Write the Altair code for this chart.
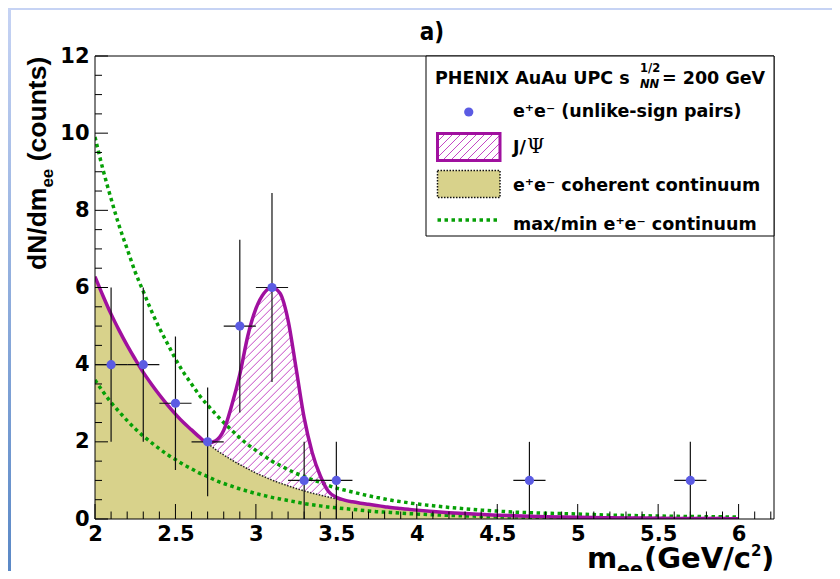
import numpy as np
import pandas as pd
import altair as alt

# ---------------- data ----------------
mass = [2.00, 2.05, 2.10, 2.15, 2.20, 2.25, 2.30, 2.35, 2.40, 2.45, 2.50, 2.55, 2.60, 2.65,
        2.70, 2.75, 2.80, 2.85, 2.90, 2.95, 3.00, 3.05, 3.10, 3.15, 3.20, 3.25, 3.30, 3.35,
        3.40, 3.45, 3.50, 3.55, 3.60, 3.65, 3.70, 3.75, 3.80, 3.85, 3.90, 3.95, 4.00,
        4.1, 4.2, 4.3, 4.4, 4.5, 4.6, 4.7, 4.8, 4.9, 5.0, 5.1, 5.2, 5.3, 5.4, 5.5, 5.6,
        5.7, 5.8, 5.9, 6.0]
continuum = [6.28, 5.78, 5.31, 4.89, 4.50, 4.14, 3.80, 3.50, 3.22, 2.96, 2.72, 2.50, 2.31, 2.12,
             1.96, 1.80, 1.66, 1.53, 1.41, 1.30, 1.19, 1.10, 1.01, 0.93, 0.86, 0.79, 0.73, 0.67,
             0.62, 0.57, 0.52, 0.48, 0.44, 0.41, 0.38, 0.35, 0.32, 0.29, 0.27, 0.25, 0.23,
             0.195, 0.165, 0.14, 0.12, 0.10, 0.085, 0.072, 0.061, 0.052, 0.044, 0.037, 0.032,
             0.027, 0.023, 0.019, 0.016, 0.014, 0.012, 0.010, 0.0085]
total = [6.28, 5.78, 5.31, 4.89, 4.50, 4.14, 3.80, 3.50, 3.22, 2.96, 2.72, 2.50, 2.31, 2.12,
         1.97, 2.03, 2.30, 2.95, 3.75, 4.75, 5.45, 5.85, 6.00, 5.85, 5.15, 3.90, 2.62, 1.72,
         1.12, 0.72, 0.56, 0.49, 0.445, 0.41, 0.38, 0.35, 0.32, 0.29, 0.27, 0.25, 0.23,
         0.195, 0.165, 0.14, 0.12, 0.10, 0.085, 0.072, 0.061, 0.052, 0.044, 0.037, 0.032,
         0.027, 0.023, 0.019, 0.016, 0.014, 0.012, 0.010, 0.0085]
cont_max = [9.9, 9.05, 8.3, 7.6, 7.0, 6.4, 5.9, 5.4, 4.95, 4.55, 4.15, 3.8, 3.5, 3.2,
            2.95, 2.72, 2.5, 2.3, 2.1, 1.93, 1.78, 1.64, 1.5, 1.39, 1.28, 1.18, 1.1, 1.02,
            0.95, 0.87, 0.8, 0.75, 0.7, 0.65, 0.6, 0.56, 0.52, 0.48, 0.45, 0.42, 0.39,
            0.345, 0.3, 0.265, 0.23, 0.205, 0.18, 0.165, 0.15, 0.14, 0.13, 0.115, 0.1,
            0.092, 0.085, 0.078, 0.07, 0.065, 0.06, 0.055, 0.05]
cont_min = [3.6, 3.3, 3.02, 2.78, 2.55, 2.34, 2.15, 1.98, 1.82, 1.67, 1.54, 1.41, 1.3, 1.19,
            1.1, 1.0, 0.92, 0.85, 0.78, 0.72, 0.66, 0.61, 0.56, 0.52, 0.48, 0.44, 0.4, 0.37,
            0.34, 0.31, 0.29, 0.27, 0.25, 0.23, 0.21, 0.19, 0.18, 0.165, 0.15, 0.14, 0.13,
            0.11, 0.095, 0.08, 0.07, 0.06, 0.052, 0.045, 0.04, 0.035, 0.03, 0.027, 0.024,
            0.021, 0.019, 0.017, 0.015, 0.013, 0.012, 0.011, 0.01]

pair_mass = [2.1, 2.3, 2.5, 2.7, 2.9, 3.1, 3.3, 3.5, 4.7, 5.7]
pair_counts = [4, 4, 3, 2, 5, 6, 1, 1, 1, 1]
pair_err = [2.0, 2.0, 1.73, 1.41, 2.24, 2.45, 1.0, 1.0, 1.0, 1.0]
bin_half_width = 0.1

x_major = [2, 2.5, 3, 3.5, 4, 4.5, 5, 5.5, 6]
x_minor = [2.1, 2.2, 2.3, 2.4, 2.6, 2.7, 2.8, 2.9, 3.1, 3.2, 3.3, 3.4, 3.6, 3.7, 3.8, 3.9,
           4.1, 4.2, 4.3, 4.4, 4.6, 4.7, 4.8, 4.9, 5.1, 5.2, 5.3, 5.4, 5.6, 5.7, 5.8, 5.9,
           6.1, 6.2]
y_major = [0, 2, 4, 6, 8, 10, 12]
y_minor = [0.5, 1, 1.5, 2.5, 3, 3.5, 4.5, 5, 5.5, 6.5, 7, 7.5, 8.5, 9, 9.5,
           10.5, 11, 11.5]

assert len(mass) == len(continuum) == len(total) == len(cont_max) == len(cont_min)

# ---------------- layout ----------------
W, H = 679, 463
PAD_L, PAD_T = 87, 48
CW, CH = 824, 563            # whole chart must fit inside the 840x579 window with 8px margins
X0, X1 = 2.0, 6.22
Y0, Y1 = 0.0, 12.0
sx = W / (X1 - X0)
sy = H / (Y1 - Y0)

YEL = "#d8d28b"
MAG = "#a0109f"
HATCH = "#c448c4"
GRN = "#06a006"
BLUE = "#5b5be3"
ARIAL = "Liberation Sans, Arial, Helvetica, sans-serif"
DJV = "DejaVu Sans, sans-serif"

xs = alt.Scale(domain=[X0, X1], nice=False, zero=False)
ys = alt.Scale(domain=[Y0, Y1], nice=False, zero=False)
ax_x = alt.Axis(values=x_major, format="~g", title=None, ticks=False, domain=False, grid=False,
                labelFont=DJV, labelFontWeight="bold", labelFontSize=21, labelColor="black",
                labelPadding=4, labelFlush=False, labelOverlap=False)
ax_y = alt.Axis(values=y_major, format="d", title=None, ticks=False, domain=False, grid=False,
                labelFont=DJV, labelFontWeight="bold", labelFontSize=21, labelColor="black",
                labelPadding=6, labelFlush=False, labelOverlap=False)

def X(f):
    return alt.X(f, type="quantitative", scale=xs, axis=ax_x)

def Y(f):
    return alt.Y(f, type="quantitative", scale=ys, axis=ax_y)

one = alt.Data(values=[{"a": 1}])

def txt(s, x, y, size, font=DJV, weight="bold", align="left", angle=0, style="normal"):
    return alt.Chart(one).mark_text(
        text=s, font=font, fontSize=size, fontWeight=weight, align=align,
        baseline="alphabetic", angle=angle, fontStyle=style, color="black"
    ).encode(x=alt.value(x), y=alt.value(y))

curves = pd.DataFrame({"m": mass, "c": continuum, "t": total, "u": cont_max, "l": cont_min})

pts = pd.DataFrame({"m": pair_mass, "n": pair_counts, "e": pair_err})
pts["lo"] = pts["n"] - pts["e"]
pts["hi"] = pts["n"] + pts["e"]
pts["xl"] = pts["m"] - bin_half_width
pts["xh"] = pts["m"] + bin_half_width

# hatch of J/psi region (between continuum and total), 45 degree lines in screen space
slope = sx / sy
xx = np.linspace(2.55, 3.8, 2501)
ci = np.interp(xx, mass, continuum)
ti = np.interp(xx, mass, total)
rows = []
for x0 in np.arange(2.55 - 6.5 / slope, 3.8, 8.0 / sx):
    yl = slope * (xx - x0)
    inside = (yl > ci + 0.01) & (yl < ti - 0.01)
    d = np.diff(np.concatenate([[0], inside.astype(np.int8), [0]]))
    for a, b in zip(np.flatnonzero(d == 1), np.flatnonzero(d == -1)):
        if b - a >= 2:
            rows.append(dict(x=xx[a], y=yl[a], x2=xx[b - 1], y2=yl[b - 1]))
hatch = pd.DataFrame(rows)

# legend geometry (pixels relative to plot origin)
LX1, LX2 = 342.5, 405.0
jb1, jb2 = 77.5, 104.5
cb1, cb2 = 114.5, 141.5
lrows = []
hh = jb2 - jb1
for c in np.arange(LX1 - hh, LX2, 8.0):
    ps, pe = max(LX1, c), min(LX2, c + hh)
    if pe - ps > 0.5:
        lrows.append(dict(x=X0 + ps / sx, y=Y1 - (jb2 - (ps - c)) / sy,
                          x2=X0 + pe / sx, y2=Y1 - (jb2 - (pe - c)) / sy))
lhatch = pd.DataFrame(lrows)

layers = []
# page decoration (blue frame strips)
grad = {"gradient": "linear", "x1": 0, "y1": 0, "x2": 0, "y2": 1,
        "stops": [{"offset": 0, "color": "#c6d3f4"}, {"offset": 1, "color": "#5a88c6"}]}
layers.append(alt.Chart(one).mark_rect(fill=grad).encode(
    x=alt.value(-PAD_L), x2=alt.value(-PAD_L + 3), y=alt.value(-PAD_T), y2=alt.value(CH - PAD_T)))
layers.append(alt.Chart(one).mark_rect(fill="#c6d3f4").encode(
    x=alt.value(-PAD_L), x2=alt.value(CW - PAD_L), y=alt.value(-PAD_T), y2=alt.value(-PAD_T + 2)))

# coherent continuum fill
layers.append(alt.Chart(curves).mark_area(color=YEL, interpolate="monotone", clip=True).encode(
    x=X("m"), y=Y("c")))
layers.append(alt.Chart(curves).mark_line(color="#222222", strokeWidth=1.5, strokeDash=[1.5, 1.5],
                                          interpolate="monotone", clip=True).encode(x=X("m"), y=Y("c")))
# J/psi hatch
layers.append(alt.Chart(hatch).mark_rule(color=HATCH, strokeWidth=1).encode(
    x=X("x"), y=Y("y"), x2="x2:Q", y2="y2:Q"))
# max/min continuum
for f in ["u", "l"]:
    layers.append(alt.Chart(curves).mark_line(color=GRN, strokeWidth=3.5, strokeDash=[3.5, 3.5],
                                              strokeCap="butt", interpolate="monotone", clip=True
                                              ).encode(x=X("m"), y=Y(f)))
# total (continuum + J/psi)
layers.append(alt.Chart(curves).mark_line(color=MAG, strokeWidth=3.5, interpolate="monotone",
                                          clip=True).encode(x=X("m"), y=Y("t")))
# ticks (inside)
layers.append(alt.Chart(pd.DataFrame({"v": x_major})).mark_rule(color="black", strokeWidth=1).encode(
    x=X("v"), y=alt.value(H), y2=alt.value(H - 15)))
layers.append(alt.Chart(pd.DataFrame({"v": x_minor})).mark_rule(color="black", strokeWidth=1).encode(
    x=X("v"), y=alt.value(H), y2=alt.value(H - 7.5)))
layers.append(alt.Chart(pd.DataFrame({"v": y_major})).mark_rule(color="black", strokeWidth=1).encode(
    y=Y("v"), x=alt.value(0), x2=alt.value(13)))
layers.append(alt.Chart(pd.DataFrame({"v": y_minor})).mark_rule(color="black", strokeWidth=1).encode(
    y=Y("v"), x=alt.value(0), x2=alt.value(7)))
# data points with error bars
layers.append(alt.Chart(pts).mark_rule(color="#111111", strokeWidth=1.2).encode(
    x=X("m"), y=Y("lo"), y2="hi:Q"))
layers.append(alt.Chart(pts).mark_rule(color="#111111", strokeWidth=1.2).encode(
    x=X("xl"), x2="xh:Q", y=Y("n")))
layers.append(alt.Chart(pts).mark_circle(color=BLUE, size=85, opacity=1).encode(
    x=X("m"), y=Y("n")))

# frame
layers.append(alt.Chart(one).mark_rect(fillOpacity=0, stroke="black", strokeWidth=1).encode(
    x=alt.value(0), x2=alt.value(W), y=alt.value(0), y2=alt.value(H)))

# legend
layers.append(alt.Chart(one).mark_rect(fill="white", stroke="black", strokeWidth=1).encode(
    x=alt.value(331), x2=alt.value(W), y=alt.value(0), y2=alt.value(180)))
layers.append(alt.Chart(one).mark_circle(color=BLUE, size=85, opacity=1).encode(
    x=alt.value((LX1 + LX2) / 2), y=alt.value(56)))
layers.append(alt.Chart(lhatch).mark_rule(color=HATCH, strokeWidth=1).encode(
    x=X("x"), y=Y("y"), x2="x2:Q", y2="y2:Q"))
layers.append(alt.Chart(one).mark_rect(fillOpacity=0, stroke=MAG, strokeWidth=3).encode(
    x=alt.value(LX1), x2=alt.value(LX2), y=alt.value(jb1), y2=alt.value(jb2)))
layers.append(alt.Chart(one).mark_rect(fill=YEL, stroke="#111111", strokeWidth=1.5,
                                       strokeDash=[1.5, 1.5]).encode(
    x=alt.value(LX1), x2=alt.value(LX2), y=alt.value(cb1), y2=alt.value(cb2)))
layers.append(alt.Chart(one).mark_rule(color=GRN, strokeWidth=3.5, strokeDash=[3.5, 3.5],
                                       strokeCap="butt").encode(
    x=alt.value(LX1), x2=alt.value(LX2), y=alt.value(164)))

LF = 17.5
layers.append(txt("PHENIX AuAu UPC s", 340, 28, LF))
layers.append(txt("1/2", 545, 16, 11.5))
layers.append(txt("NN", 545, 32, 11.5, style="italic"))
layers.append(txt("= 200 GeV", 567, 28, LF))
layers.append(txt("e\u207ae\u207b (unlike-sign pairs)", 418, 61, LF))
layers.append(txt("J/", 418, 97, LF))
layers.append(txt("\u03a8", 432, 97, 20, font="DejaVu Serif, serif", weight="normal"))
layers.append(txt("e\u207ae\u207b coherent continuum", 418, 135, LF))
layers.append(txt("max/min e\u207ae\u207b continuum", 418, 174, LF))

# titles
layers.append(txt("a)", 337, -16, 24, font="Liberation Sans Narrow, DejaVu Sans Condensed, Liberation Sans",
                  align="center"))
XB = 512
layers.append(txt("m", 492, XB, 29))
layers.append(txt("ee", 522, XB + 8, 19))
layers.append(txt("(GeV/c", 549, XB, 29))
layers.append(txt("2", 656, XB - 12, 15))
layers.append(txt(")", 666, XB, 29))

YB = -49
layers.append(txt("dN/dm", YB, 214, 26.5, font=ARIAL, angle=270))
layers.append(txt("ee", YB + 7, 131.6, 17, font=ARIAL, angle=270))
layers.append(txt("(counts)", YB, 105.3, 26.5, font=ARIAL, angle=270))

chart = alt.layer(*layers).properties(
    width=W, height=H,
    autosize=alt.AutoSizeParams(type="none"),
    padding={"left": PAD_L, "top": PAD_T, "right": CW - PAD_L - W, "bottom": CH - PAD_T - H},
    background="white",
).configure_view(stroke=None)

chart.save("out.html", embed_options={"renderer": "svg", "actions": False})
